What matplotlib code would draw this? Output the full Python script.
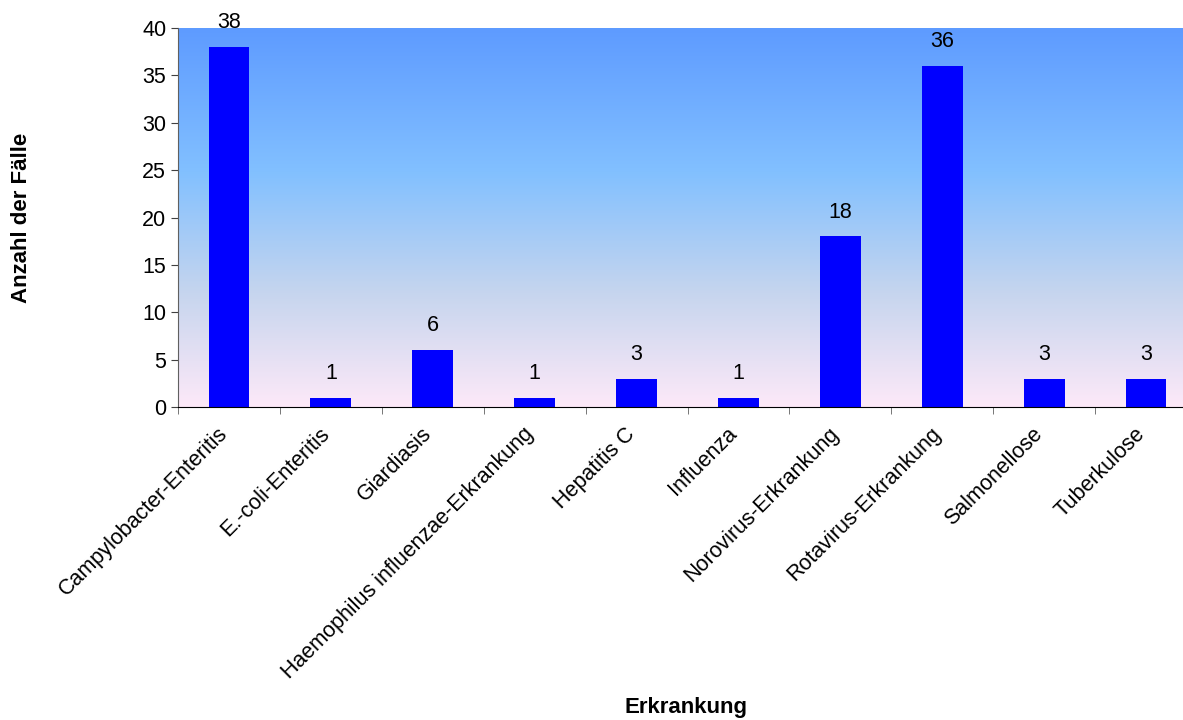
import numpy as np
import matplotlib.pyplot as plt
from matplotlib.colors import LinearSegmentedColormap
from matplotlib.transforms import ScaledTranslation

plt.rcParams['font.family'] = ['Liberation Sans', 'DejaVu Sans']

krankheiten = ["Campylobacter-Enteritis", "E.-coli-Enteritis", "Giardiasis",
               "Haemophilus influenzae-Erkrankung", "Hepatitis C", "Influenza",
               "Norovirus-Erkrankung", "Rotavirus-Erkrankung", "Salmonellose",
               "Tuberkulose"]
faelle = [38, 1, 6, 1, 3, 1, 18, 36, 3, 3]
y_ticks = [0, 5, 10, 15, 20, 25, 30, 35, 40]

fig = plt.figure(figsize=(11.83, 7.2), dpi=100)
ax = fig.add_axes([178 / 1183, 1 - 407 / 720, 1 - 178 / 1183, 379 / 720])

# Hintergrund-Verlauf: unten rosa, oben blau
bg = LinearSegmentedColormap.from_list(
    "bg", [(0.0, "#fde9f8"), (0.3, "#c6d5ee"), (0.62, "#82c0ff"), (1.0, "#5e9bff")])
xlim = (-0.5, -0.5 + (1183 - 178) / 101.9)
ax.imshow(np.linspace(0, 1, 256).reshape(-1, 1), cmap=bg, origin="lower",
          aspect="auto", extent=(xlim[0], xlim[1], 0, 40), zorder=0)

x = np.arange(len(krankheiten))
ax.bar(x, faelle, width=0.4, color="#0000ff", zorder=2)
for xi, v in zip(x, faelle):
    ax.annotate(str(v), (xi, v), xytext=(0, 10), textcoords="offset points",
                ha="center", va="bottom", fontsize=15.5)

ax.set_yticks(y_ticks)
ax.tick_params(axis="y", labelsize=15.5, length=5, direction="out", color="#404040")

ax.set_xticks(np.arange(len(krankheiten) + 1) - 0.5, minor=True)
ax.set_xticks(x)
ax.set_xticklabels(krankheiten, rotation=45, ha="right", rotation_mode="anchor",
                   fontsize=15.5)
ax.tick_params(axis="x", which="major", length=0, pad=9)
ax.tick_params(axis="x", which="minor", length=5, color="#606060")

# schräge Beschriftungen etwas nach links unten schieben
shift = ScaledTranslation(-0.12, -0.04, fig.dpi_scale_trans)
for lbl in ax.get_xticklabels():
    lbl.set_transform(lbl.get_transform() + shift)

# Grenzen erst nach den Ticks setzen, sonst werden sie erweitert
ax.set_xlim(*xlim)
ax.set_ylim(0, 40)

for s in ["top", "right"]:
    ax.spines[s].set_visible(False)
ax.spines["left"].set_color("#606060")
ax.spines["bottom"].set_color("black")

fig.text(22 / 1183, 1 - 218 / 720, "Anzahl der Fälle", rotation=90, ha="center",
         va="center", fontsize=16, fontweight="bold")
fig.text(686 / 1183, 1 - 708 / 720, "Erkrankung", ha="center", va="center",
         fontsize=16, fontweight="bold")

fig.savefig("out.png", dpi=100)
